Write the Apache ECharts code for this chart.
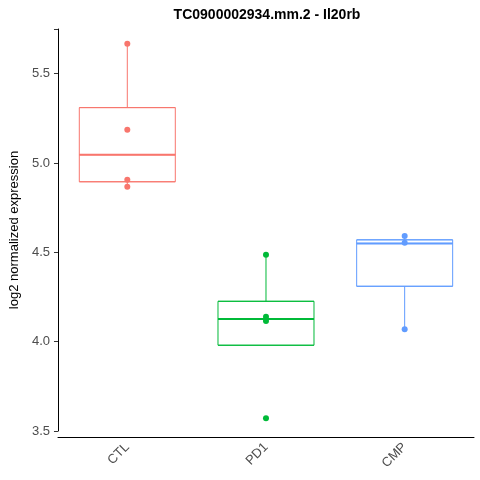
<!DOCTYPE html>
<html>
<head>
<meta charset="utf-8">
<script src="https://cdn.jsdelivr.net/npm/echarts@6/dist/echarts.min.js"></script>
<style>html,body{margin:0;padding:0;background:#fff}#chart{width:480px;height:480px}</style>
</head>
<body>
<div id="chart"></div>
<script>
var groups = ['CTL', 'PD1', 'CMP'];
var colors = ['#F8766D', '#00BA38', '#619CFF'];
// [lower whisker, Q1, median, Q3, upper whisker]
var boxStats = [
    [4.867, 4.895, 5.046, 5.31, 5.668],
    [3.98, 3.98, 4.127, 4.226, 4.486],
    [4.07, 4.31, 4.55, 4.57, 4.592]
];
var ctlPoints = [5.668, 5.186, 4.906, 4.867];
var pd1Points = [4.486, 4.139, 4.115, 3.571];
var cmpPoints = [4.592, 4.553, 4.07];
var yTicks = [3.5, 4.0, 4.5, 5.0, 5.5];

var pointSets = [ctlPoints, pd1Points, cmpPoints];

// box only (no whiskers): min = Q1, max = Q3
var boxData = boxStats.map(function (s, i) {
    return {
        value: [s[1], s[1], s[2], s[3], s[3]],
        itemStyle: { color: '#fff', borderColor: colors[i], borderWidth: 1 }
    };
});

var scatterSeries = pointSets.map(function (pts, i) {
    return {
        type: 'scatter',
        symbolSize: 6,
        itemStyle: { color: colors[i], opacity: 1 },
        data: pts.map(function (v) { return [i, v]; }),
        z: 5
    };
});

// whiskers and thick median line
var extras = {
    type: 'custom',
    z: 4,
    data: boxStats.map(function (s, i) { return [i, s[0], s[1], s[2], s[3], s[4]]; }),
    renderItem: function (params, api) {
        var i = api.value(0);
        var c = colors[i];
        var lo = api.coord([i, api.value(1)]);
        var q1 = api.coord([i, api.value(2)]);
        var md = api.coord([i, api.value(3)]);
        var q3 = api.coord([i, api.value(4)]);
        var hi = api.coord([i, api.value(5)]);
        var hw = 48;
        return {
            type: 'group',
            children: [
                { type: 'line', shape: { x1: q3[0], y1: q3[1], x2: hi[0], y2: hi[1] }, style: { stroke: c, lineWidth: 1 } },
                { type: 'line', shape: { x1: q1[0], y1: q1[1], x2: lo[0], y2: lo[1] }, style: { stroke: c, lineWidth: 1 } },
                { type: 'line', shape: { x1: md[0] - hw, y1: md[1], x2: md[0] + hw, y2: md[1] }, style: { stroke: c, lineWidth: 2 } }
            ]
        };
    }
};

var option = {
    title: {
        text: 'TC0900002934.mm.2 - Il20rb',
        left: 262,
        textAlign: 'center',
        top: 3,
        textStyle: { fontSize: 14, fontWeight: 'bold', color: '#000', fontFamily: 'Liberation Sans' }
    },
    grid: { left: 49, right: 6, top: 29, bottom: 49 },
    xAxis: {
        type: 'category',
        data: groups,
        offset: 6,
        axisLine: { lineStyle: { color: '#000', width: 1 } },
        axisTick: { alignWithLabel: true, length: 4, lineStyle: { color: '#333' } },
        axisLabel: { rotate: 45, color: '#4d4d4d', fontSize: 13, margin: 8, fontFamily: 'Liberation Sans' },
        splitLine: { show: false }
    },
    yAxis: {
        type: 'value',
        min: 3.5,
        max: 5.75,
        interval: 0.5,
        name: 'log2 normalized expression',
        nameLocation: 'middle',
        nameGap: 35,
        nameTextStyle: { fontSize: 13, color: '#000', fontFamily: 'Liberation Sans' },
        axisLine: { show: true, lineStyle: { color: '#000' } },
        axisTick: { show: true, length: 4, lineStyle: { color: '#333' } },
        axisLabel: {
            color: '#4d4d4d', fontSize: 13, fontFamily: 'Liberation Sans',
            formatter: function (v) { return yTicks.indexOf(v) >= 0 ? v.toFixed(1) : ''; }
        },
        splitLine: { show: false }
    },
    series: [{
        type: 'boxplot',
        data: boxData,
        boxWidth: [96, 96],
        z: 2
    }, extras].concat(scatterSeries)
};

var myChart = echarts.init(document.getElementById('chart'));
myChart.setOption(option);
</script>
</body>
</html>
